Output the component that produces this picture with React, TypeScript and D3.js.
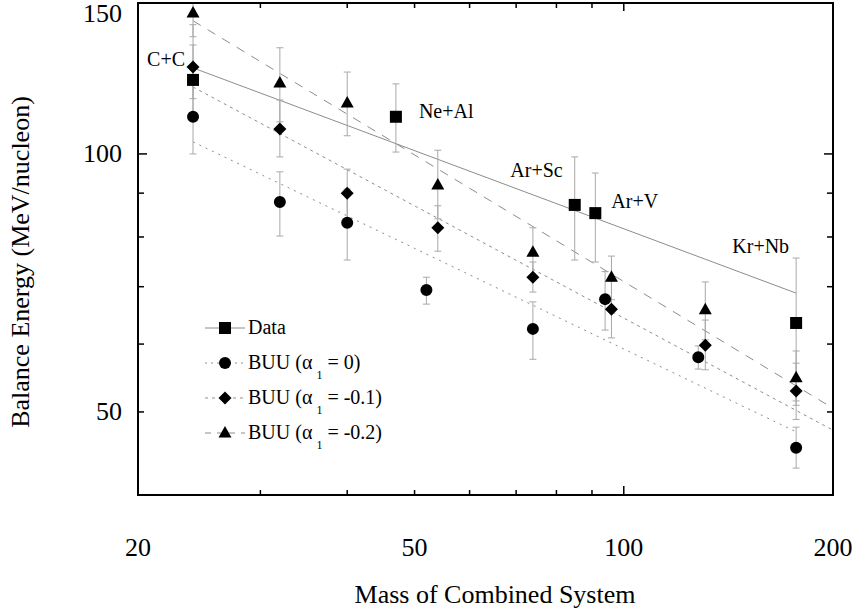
import React from "react";
import * as d3 from "d3";

// Combined-system mass (A_proj + A_targ) and balance energies (MeV/nucleon)
const dataMass = [24, 47, 85, 91, 177];
const dataE = [122, 110.5, 87.2, 85.3, 63.5];
const dataLo = [110, 100.5, 75.2, 74.8, 51.5];
const dataHi = [134, 120.7, 99.2, 95, 75.6];
const dataSystems = ["C+C", "Ne+Al", "Ar+Sc", "Ar+V", "Kr+Nb"];

const buu0Mass = [24, 32, 40, 52, 74, 94, 128, 177];
const buu0E = [110.5, 87.9, 83.1, 69.4, 62.5, 67.7, 57.9, 45.4];
const buu0Lo = [100, 80.2, 75.2, 66.8, 57.6, 62.3, 56.1, 43];
const buu0Hi = [121, 95.3, 91, 71.8, 67.2, 72.9, 59.7, 48];

const buu1Mass = [24, 32, 40, 54, 74, 96, 131, 177];
const buu1E = [126.3, 106.9, 90.0, 82.0, 71.8, 65.9, 59.8, 52.9];
const buu1Lo = [116, 99.2, 84, 77, 69, 61, 56, 49];
const buu1Hi = [141.5, 115.6, 96, 87, 74.8, 71, 64, 57];

const buu2Mass = [24, 32, 40, 54, 74, 96, 131, 177];
const buu2E = [146, 121, 114.7, 92, 76.8, 71.8, 65.8, 54.8];
const buu2Lo = [137, 109, 105, 84, 72, 67.6, 60.7, 50.9];
const buu2Hi = [155, 133, 124.6, 101, 82, 76, 70.9, 58.9];

// Power-law fits, given by their end points [mass, energy]
const fitData = [[24, 126], [177, 68.8]];
const fitBuu0 = [[24, 103.3], [177, 47.4]];
const fitBuu1 = [[24, 119.7], [200, 47.6]];
const fitBuu2 = [[24, 143], [200, 50.5]];

const xTickLabels = [20, 50, 100, 200];
const xMinorTicks = [30, 40, 50, 60, 70, 80, 90];
const xMajorTicks = [100];
const yTickLabels = [50, 100, 150];
const yMinorTicks = [50, 60, 70, 80, 90];
const yMajorTicks = [100];

const legendLabels = ["Data", "BUU (α", "BUU (α", "BUU (α"];
const legendAlpha = ["", "0", "-0.1", "-0.2"];

// Placement of the reaction-system labels relative to their data points
const systemLabelLayout = [
  { dx: -8, dy: -14, anchor: "end" },
  { dx: 23, dy: 1, anchor: "start" },
  { dx: -12, dy: -28, anchor: "end" },
  { dx: 16, dy: -5, anchor: "start" },
  { dx: -7, dy: -70, anchor: "end" },
];

const W = 855;
const H = 611;
const left = 138;
const right = 833;
const top = 3;
const bottom = 495;
const FONT = "'Liberation Serif', 'Times New Roman', Times, serif";
const ERR = "#a8a8a8";
const FIT = "#8c8c8c";

const x = d3.scaleLog().domain([20, 200]).range([left, right]);
const y = d3.scaleLog().domain([40, 150]).range([bottom, top]);

type Shape = "square" | "circle" | "diamond" | "triangle";

function markerPath(shape: Shape, cx: number, cy: number): string {
  const p = d3.path();
  if (shape === "square") {
    p.rect(cx - 6, cy - 6, 12, 12);
  } else if (shape === "circle") {
    p.moveTo(cx + 6, cy);
    p.arc(cx, cy, 6, 0, Math.PI * 2);
  } else if (shape === "diamond") {
    p.moveTo(cx, cy - 6.5);
    p.lineTo(cx + 6.5, cy);
    p.lineTo(cx, cy + 6.5);
    p.lineTo(cx - 6.5, cy);
    p.closePath();
  } else {
    p.moveTo(cx, cy - 7);
    p.lineTo(cx + 6.5, cy + 4.5);
    p.lineTo(cx - 6.5, cy + 4.5);
    p.closePath();
  }
  return p.toString();
}

const line = d3
  .line<number[]>()
  .x((d) => x(d[0]))
  .y((d) => y(d[1]));

interface Series {
  mass: number[];
  e: number[];
  lo: number[];
  hi: number[];
  shape: Shape;
}

const series: Series[] = [
  { mass: buu0Mass, e: buu0E, lo: buu0Lo, hi: buu0Hi, shape: "circle" },
  { mass: buu1Mass, e: buu1E, lo: buu1Lo, hi: buu1Hi, shape: "diamond" },
  { mass: buu2Mass, e: buu2E, lo: buu2Lo, hi: buu2Hi, shape: "triangle" },
  { mass: dataMass, e: dataE, lo: dataLo, hi: dataHi, shape: "square" },
];

const fits = [
  { pts: fitData, dash: undefined as string | undefined },
  { pts: fitBuu0, dash: "2,5" },
  { pts: fitBuu1, dash: "3,4" },
  { pts: fitBuu2, dash: "9,8" },
];

const legendShapes: Shape[] = ["square", "circle", "diamond", "triangle"];
const legendDash = [undefined, "2,4", "3,4", "6,6"];

export default function App() {
  return (
    <svg
      width={W}
      height={H}
      style={{ position: "absolute", left: 0, top: 0, background: "#fff" }}
      fontFamily={FONT}
    >
      <defs>
        <clipPath id="plot">
          <rect x={left} y={top} width={right - left} height={bottom - top} />
        </clipPath>
      </defs>

      {/* fit lines */}
      <g clipPath="url(#plot)">
        {fits.map((f, i) => (
          <path
            key={i}
            d={line(f.pts) || ""}
            fill="none"
            stroke={FIT}
            strokeWidth={1}
            strokeDasharray={f.dash}
          />
        ))}
      </g>

      {/* error bars */}
      <g clipPath="url(#plot)" stroke={ERR} strokeWidth={1}>
        {series.map((s, si) =>
          s.mass.map((m, i) => {
            const px = x(m);
            const y0 = y(s.lo[i]);
            const y1 = y(s.hi[i]);
            return (
              <g key={`${si}-${i}`}>
                <line x1={px} x2={px} y1={y0} y2={y1} />
                <line x1={px - 3.5} x2={px + 3.5} y1={y0} y2={y0} />
                <line x1={px - 3.5} x2={px + 3.5} y1={y1} y2={y1} />
              </g>
            );
          })
        )}
      </g>

      {/* markers */}
      <g fill="#000">
        {series.map((s, si) =>
          s.mass.map((m, i) => (
            <path key={`${si}-${i}`} d={markerPath(s.shape, x(m), y(s.e[i]))} />
          ))
        )}
      </g>

      {/* reaction-system labels */}
      <g fontSize={20} fill="#000">
        {dataSystems.map((t, i) => {
          const L = systemLabelLayout[i];
          return (
            <text
              key={t}
              x={x(dataMass[i]) + L.dx}
              y={y(dataE[i]) + L.dy}
              textAnchor={L.anchor as any}
            >
              {t}
            </text>
          );
        })}
      </g>

      {/* frame and ticks */}
      <rect
        x={left}
        y={top}
        width={right - left}
        height={bottom - top}
        fill="none"
        stroke="#000"
        strokeWidth={2}
      />
      <g stroke="#000" strokeWidth={1.5}>
        {xMinorTicks.map((t) => (
          <g key={`xm${t}`}>
            <line x1={x(t)} x2={x(t)} y1={bottom} y2={bottom - 5} />
            <line x1={x(t)} x2={x(t)} y1={top} y2={top + 5} />
          </g>
        ))}
        {xMajorTicks.map((t) => (
          <g key={`xM${t}`}>
            <line x1={x(t)} x2={x(t)} y1={bottom} y2={bottom - 9} />
            <line x1={x(t)} x2={x(t)} y1={top} y2={top + 8} />
          </g>
        ))}
        {yMinorTicks.map((t) => (
          <g key={`ym${t}`}>
            <line x1={left} x2={left + 6} y1={y(t)} y2={y(t)} />
            <line x1={right} x2={right - 6} y1={y(t)} y2={y(t)} />
          </g>
        ))}
        {yMajorTicks.map((t) => (
          <g key={`yM${t}`}>
            <line x1={left} x2={left + 9} y1={y(t)} y2={y(t)} />
            <line x1={right} x2={right - 9} y1={y(t)} y2={y(t)} />
          </g>
        ))}
      </g>

      {/* tick labels */}
      <g fontSize={26} fill="#000">
        {xTickLabels.map((t) => (
          <text key={`xl${t}`} x={x(t)} y={556} textAnchor="middle">
            {t}
          </text>
        ))}
        {yTickLabels.map((t) => (
          <text
            key={`yl${t}`}
            x={122}
            y={Math.max(y(t) + 8, 22)}
            textAnchor="end"
          >
            {t}
          </text>
        ))}
      </g>

      {/* axis titles */}
      <text x={495} y={603} fontSize={26} textAnchor="middle">
        Mass of Combined System
      </text>
      <text
        transform={`translate(29, 262) rotate(-90)`}
        fontSize={26}
        textAnchor="middle"
      >
        Balance Energy (MeV/nucleon)
      </text>

      {/* legend */}
      <g fontSize={20}>
        {legendLabels.map((lab, i) => {
          const cy = 328 + i * 35;
          return (
            <g key={i}>
              <line
                x1={205}
                x2={245}
                y1={cy}
                y2={cy}
                stroke={FIT}
                strokeWidth={1}
                strokeDasharray={legendDash[i]}
              />
              <path d={markerPath(legendShapes[i], 225, cy)} fill="#000" />
              <text x={248} y={cy + 6}>
                {lab}
                {legendAlpha[i] !== "" && (
                  <>
                    <tspan fontSize={12} dx={4} dy={10}>
                      1
                    </tspan>
                    <tspan dy={-10}>{` = ${legendAlpha[i]})`}</tspan>
                  </>
                )}
              </text>
            </g>
          );
        })}
      </g>
    </svg>
  );
}
